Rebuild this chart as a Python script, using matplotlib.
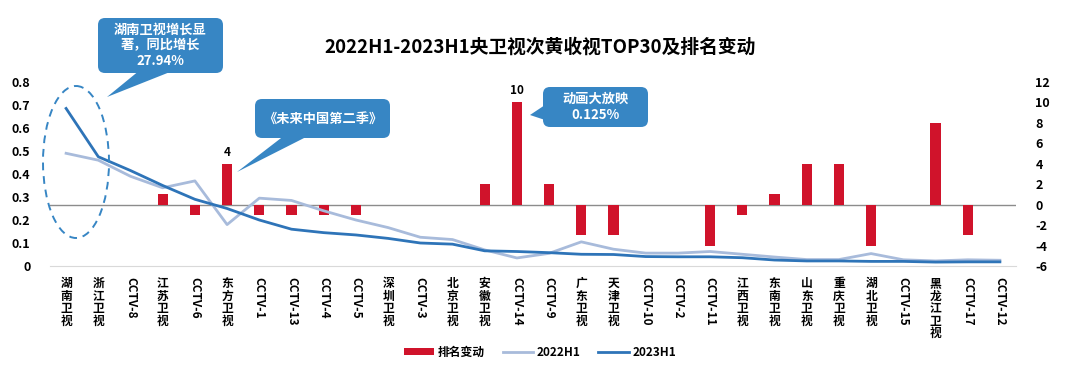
import matplotlib
matplotlib.use("Agg")
import matplotlib.pyplot as plt
from matplotlib.patches import FancyBboxPatch, Polygon, Ellipse, Patch
from matplotlib.lines import Line2D
import numpy as np

plt.rcParams['font.family'] = ['Noto Sans CJK SC', 'DejaVu Sans']
plt.rcParams['font.weight'] = 'bold'

channels = ["湖南卫视", "浙江卫视", "CCTV-8", "江苏卫视", "CCTV-6", "东方卫视", "CCTV-1", "CCTV-13",
            "CCTV-4", "CCTV-5", "深圳卫视", "CCTV-3", "北京卫视", "安徽卫视", "CCTV-14", "CCTV-9",
            "广东卫视", "天津卫视", "CCTV-10", "CCTV-2", "CCTV-11", "江西卫视", "东南卫视", "山东卫视",
            "重庆卫视", "湖北卫视", "CCTV-15", "黑龙江卫视", "CCTV-17", "CCTV-12"]
rank_change = [0, 0, 0, 1, -1, 4, -1, -1, -1, -1, 0, 0, 0, 2, 10, 2,
               -3, -3, 0, 0, -4, -1, 1, 4, 4, -4, 0, 8, -3, 0]
rating_2022 = [0.49, 0.46, 0.39, 0.34, 0.37, 0.18, 0.295, 0.285, 0.24, 0.20, 0.167, 0.125, 0.115,
               0.07, 0.035, 0.055, 0.105, 0.073, 0.056, 0.056, 0.063, 0.051, 0.039, 0.028,
               0.028, 0.054, 0.027, 0.022, 0.027, 0.025]
rating_2023 = [0.685, 0.475, 0.415, 0.35, 0.29, 0.25, 0.20, 0.16, 0.145, 0.135, 0.12, 0.10, 0.095,
               0.066, 0.063, 0.058, 0.051, 0.05, 0.041, 0.04, 0.04, 0.036, 0.026, 0.022,
               0.022, 0.02, 0.02, 0.017, 0.018, 0.018]
labeled_channels = ["东方卫视", "CCTV-14"]
left_ticks = [0, 0.1, 0.2, 0.3, 0.4, 0.5, 0.6, 0.7, 0.8]
left_tick_labels = ["0", "0.1", "0.2", "0.3", "0.4", "0.5", "0.6", "0.7", "0.8"]
right_ticks = [-6, -4, -2, 0, 2, 4, 6, 8, 10, 12]

RED = "#D0132B"
LIGHT = "#A8BBDB"
DARK = "#2E74B8"
BOX = "#3786C4"

W, H = 1080, 375
fig = plt.figure(figsize=(W / 100, H / 100), dpi=100)
ax = fig.add_axes([50 / W, 1 - 266 / H, 966 / W, 184 / H])
ax2 = ax.twinx()

x = np.arange(len(channels))
ax2.bar(x, rank_change, width=0.32, color=RED, zorder=2)
ax2.axhline(0, color="#8C8C8C", lw=1.0, zorder=1)
for xi, c, v in zip(x, channels, rank_change):
    if c in labeled_channels:
        ax2.text(xi, v + 0.5, str(v), ha="center", va="bottom", fontsize=8.5, fontweight="bold")

ax.plot(x, rating_2022, color=LIGHT, lw=2.0, zorder=3)
ax.plot(x, rating_2023, color=DARK, lw=2.0, zorder=4)
ax.set_zorder(ax2.get_zorder() + 1)
ax.patch.set_visible(False)

ax.set_xlim(-0.5, len(channels) - 0.5)
ax.set_ylim(0, 0.8)
ax2.set_ylim(-6, 12)
ax.set_yticks(left_ticks)
ax.set_yticklabels(left_tick_labels, fontsize=9, fontweight="bold")
ax2.set_yticks(right_ticks)
ax2.set_yticklabels([str(t) for t in right_ticks], fontsize=9, fontweight="bold")

for a in (ax, ax2):
    for s in a.spines.values():
        s.set_visible(False)
    a.tick_params(length=0)
ax.spines["bottom"].set_visible(True)
ax.spines["bottom"].set_color("#D9D9D9")
ax.tick_params(axis="y", pad=14)
ax2.tick_params(axis="y", pad=14)

labels = []
for c in channels:
    if c.startswith("CCTV"):
        labels.append(c)
    else:
        labels.append("\n".join(c))
ax.set_xticks(x)
ax.set_xticklabels(labels, fontsize=8.5, fontweight="bold")
ax.tick_params(axis="x", pad=8)
for t, c in zip(ax.get_xticklabels(), channels):
    t.set_va("top")
    t.set_ha("center")
    if c.startswith("CCTV"):
        t.set_rotation(-90)
    else:
        t.set_linespacing(0.95)

fig.text(0.5, 1 - 47 / H, "2022H1-2023H1央卫视次黄收视TOP30及排名变动", ha="center", va="center",
         fontsize=13.5, fontweight="bold")

# overlay for annotations in pixel coordinates
ov = fig.add_axes([0, 0, 1, 1], zorder=10)
ov.set_xlim(0, W)
ov.set_ylim(H, 0)
ov.axis("off")

def callout(x0, y0, x1, y1, tail, text, fs=9.5):
    ov.add_patch(Polygon(tail, closed=True, facecolor=BOX, edgecolor="none"))
    ov.add_patch(FancyBboxPatch((x0, y0), x1 - x0, y1 - y0,
                                boxstyle="round,pad=0,rounding_size=7",
                                facecolor=BOX, edgecolor="none"))
    ov.text((x0 + x1) / 2, (y0 + y1) / 2, text, ha="center", va="center", color="white",
            fontsize=fs, fontweight="bold", linespacing=1.15)

callout(98, 18, 223, 73, [(140, 70), (175, 70), (107, 97)], "湖南卫视增长显\n著，同比增长\n27.94%")
callout(255, 99, 390, 138, [(285, 135), (310, 135), (237, 172)], "《未来中国第二季》")
callout(543, 87, 648, 127, [(548, 103), (548, 121), (530, 115)], "动画大放映\n0.125%")

ov.add_patch(Ellipse((76, 162), 66, 152, fill=False, edgecolor=BOX, lw=1.4, ls=(0, (4, 3))))

handles = [Patch(facecolor=RED, edgecolor="none"),
           Line2D([], [], color=LIGHT, lw=2.0),
           Line2D([], [], color=DARK, lw=2.0)]
fig.legend(handles, ["排名变动", "2022H1", "2023H1"], loc="center", ncol=3,
           bbox_to_anchor=(0.5, 1 - 352 / H), frameon=False, prop={"size": 8.5, "weight": "bold"},
           handlelength=2.6, handleheight=0.6, columnspacing=1.5, handletextpad=0.3)

fig.savefig("out.png", dpi=100)
